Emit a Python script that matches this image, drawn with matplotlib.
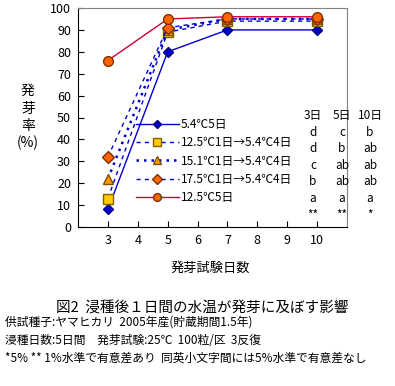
import matplotlib
matplotlib.use("Agg")
import matplotlib.pyplot as plt
import numpy as np

plt.rcParams['font.family'] = ['Noto Sans CJK JP', 'DejaVu Sans']

days = [3, 5, 7, 10]
labels = ['5.4℃5日', '12.5℃1日→5.4℃4日', '15.1℃1日→5.4℃4日',
          '17.5℃1日→5.4℃4日', '12.5℃5日']
s_54 = [8, 80, 90, 90]
s_125_54 = [13, 89, 94, 94]
s_151_54 = [22, 90, 95, 95]
s_175_54 = [32, 91, 95, 95]
s_125 = [76, 95, 96, 96]

sig_cols = ['3日', '5日', '10日']
sig_3 = ['d', 'd', 'c', 'b', 'a', '**']
sig_5 = ['c', 'b', 'ab', 'ab', 'a', '**']
sig_10 = ['b', 'ab', 'ab', 'ab', 'a', '*']

W, H = 395, 386
fig = plt.figure(figsize=(W / 100, H / 100), dpi=100)
ax = fig.add_axes([78 / W, 1 - 227 / H, (347 - 78) / W, (227 - 8) / H])

blue = '#0000cc'
ax.plot(days, s_54, color=blue, lw=1, marker='D', ms=5.5, mfc=blue, mec='#000080',
        label=labels[0])
ax.plot(days, s_125_54, color=blue, lw=1, ls=(0, (3, 3)), marker='s', ms=6.5,
        mfc='#ffcc00', mec='#806000', label=labels[1])
ax.plot(days, s_151_54, color=blue, lw=1.8, ls=(0, (1, 2)), marker='^', ms=7.5,
        mfc='#ff9900', mec='#805000', label=labels[2])
ax.plot(days, s_175_54, color=blue, lw=1, ls=(0, (3, 3)), marker='D', ms=6,
        mfc='#ff6600', mec='#803000', label=labels[3])
ax.plot(days, s_125, color='#cc0033', lw=1, marker='o', ms=7,
        mfc='#ff6600', mec='#803000', label=labels[4])

ax.set_xlim(2, 11)
ax.set_ylim(0, 100)
ax.set_xticks(range(3, 11))
ax.set_yticks(range(0, 101, 10))
ax.tick_params(direction='in', length=4, labelsize=9, pad=5, color='black')
ax.spines['top'].set_color('#808080')
ax.spines['right'].set_color('#808080')

leg = ax.legend(loc='upper left', bbox_to_anchor=(136 / W, 1 - 118 / H),
                bbox_transform=fig.transFigure, frameon=False, fontsize=8.5,
                handlelength=3.6, handletextpad=0.2, labelspacing=0.45,
                borderaxespad=0, borderpad=0, markerscale=0.8)

# y label, stacked characters
for ch, y in zip(['発', '芽', '率', '(%)'], [91, 109, 126, 143]):
    fig.text(28 / W, 1 - y / H, ch, ha='center', va='center', fontsize=10)

fig.text(210 / W, 1 - 268 / H, '発芽試験日数', ha='center', va='center', fontsize=9.5)

# significance table
for x, head, col in zip([313, 342, 370], sig_cols, [sig_3, sig_5, sig_10]):
    fig.text(x / W, 1 - 115 / H, head, ha='center', va='center', fontsize=8.5)
    for i, s in enumerate(col):
        fig.text(x / W, 1 - (132 + i * 16.6) / H, s, ha='center', va='center',
                 fontsize=8.5)

fig.text(202 / W, 1 - 308 / H, '図2  浸種後１日間の水温が発芽に及ぼす影響',
         ha='center', va='center', fontsize=10.5)
fig.text(5 / W, 1 - 322 / H, '供試種子:ヤマヒカリ  2005年産(貯蔵期間1.5年)',
         ha='left', va='center', fontsize=8.5)
fig.text(5 / W, 1 - 340 / H, '浸種日数:5日間　発芽試験:25℃  100粒/区  3反復',
         ha='left', va='center', fontsize=8.5)
fig.text(5 / W, 1 - 358 / H, '*5% ** 1%水準で有意差あり  同英小文字間には5%水準で有意差なし',
         ha='left', va='center', fontsize=8.5)

fig.savefig('out.png', dpi=100)
